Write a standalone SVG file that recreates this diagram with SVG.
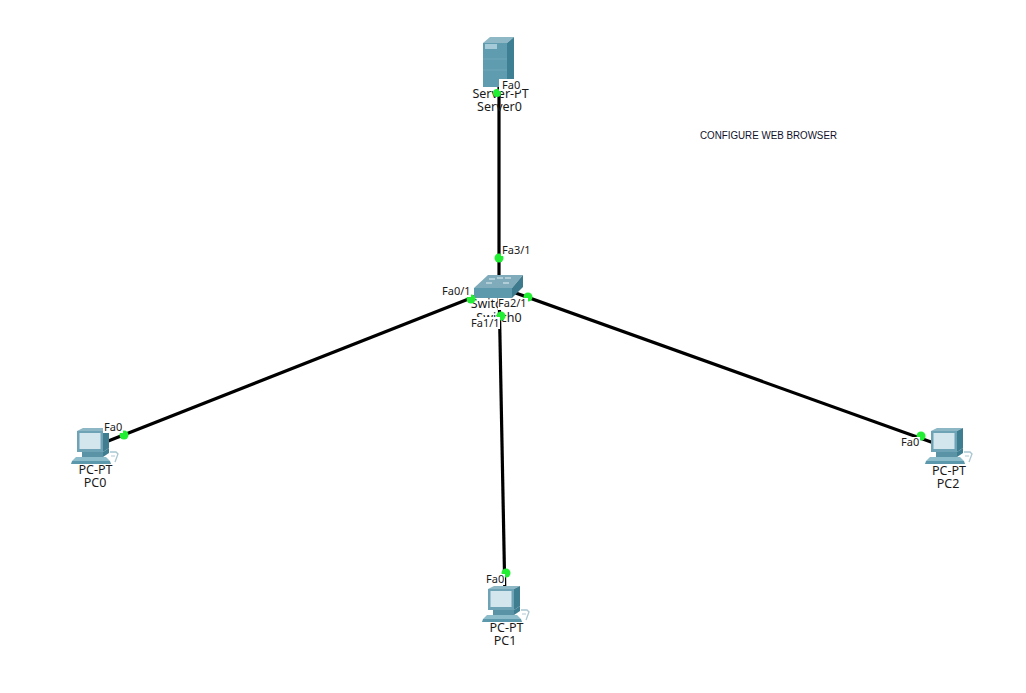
<svg xmlns="http://www.w3.org/2000/svg" width="1026" height="693" viewBox="0 0 1026 693">
<style>
text{font-family:"Noto Sans","DejaVu Sans",sans-serif;font-size:12.5px;fill:#1a1a1a;text-anchor:middle}
.link{stroke:#000;stroke-width:3.2;fill:none}
.dot{fill:#22ee33}
.bg{fill:#fff}
.port{text-anchor:start;font-size:11px}
.note{fill:#10102a;font-size:10px;text-anchor:start;font-family:"Liberation Sans",sans-serif}
</style>
<defs>
<g id="pc">
<path d="M0 3L6 0H32L26 3Z" fill="#8db7c5"/>
<path d="M26 3L32 0V20L26 24Z" fill="#3f7d90"/>
<rect x="0" y="3" width="26" height="21" fill="#6da3b5"/>
<rect x="2.5" y="5" width="21" height="16" fill="#d3e5ed"/>
<path d="M5 24H26V29H5Z" fill="#5b93a6"/>
<path d="M26 24L32 20V25L26 29Z" fill="#3f7d90"/>
<path d="M-1 29H29L33 33H-5Z" fill="#8dbccb"/>
<path d="M-5 33H33L34 36H-6Z" fill="#5c98ac"/>
<path d="M33 24H39L41 26L38 34" fill="none" stroke="#a9c6d1" stroke-width="1.3"/>
<path d="M34 28H38" stroke="#c8dbe3" stroke-width="1.5"/>
</g>
</defs>
<rect width="1026" height="693" fill="#fff"/>
<g id="connectors">
<path class="link" d="M499 62V287"/>
<path class="link" d="M499 287L93 447"/>
<path class="link" d="M499 287L505 600"/>
<path class="link" d="M499 287L945 447"/>
</g>
<g id="Server0">
<path d="M483 43L490 37H514L507 43Z" fill="#8fb8c6"/>
<path d="M507 43L514 37V80L507 87Z" fill="#3f7f93"/>
<rect x="483" y="43" width="24" height="44" fill="#5f9cb0"/>
<rect x="485" y="44" width="12" height="5" fill="#a6cbd8"/>
<path d="M483 59H507M483 70H507" stroke="#79adbf" stroke-width=".7"/>
<text x="500.500" y="98">Server-PT</text>
<text x="499.500" y="111">Server0</text>
</g>
<g id="Switch0">
<path d="M474 288L488 275H523L512 288Z" fill="#7fabbb"/>
<path d="M512 288L523 275V287L512 298Z" fill="#3d7a8d"/>
<rect x="474" y="288" width="38" height="10" fill="#5d99ad"/>
<path d="M486 283H492M505 278H511M497 278H503M489 279H495M503 283H509" stroke="#e4f0f4" stroke-width="1"/>
<text x="499" y="308">Switch-PT</text>
<text x="499" y="322">Switch0</text>
</g>
<g id="PC0"><use href="#pc" x="77" y="428"/><text x="95.500" y="474">PC-PT</text><text x="95" y="487">PC0</text></g>
<g id="PC1"><use href="#pc" x="488" y="586"/><text x="506.500" y="632">PC-PT</text><text x="505" y="645">PC1</text></g>
<g id="PC2"><use href="#pc" x="931" y="428"/><text x="949" y="475">PC-PT</text><text x="948" y="488">PC2</text></g>
<g id="ports">
<circle class="dot" cx="497" cy="93" r="4"/>
<circle class="dot" cx="499" cy="258" r="4.500"/>
<circle class="dot" cx="471" cy="299" r="4.500"/>
<circle class="dot" cx="528" cy="297" r="4.500"/>
<circle class="dot" cx="501" cy="316" r="4.500"/>
<circle class="dot" cx="124" cy="435" r="4.500"/>
<circle class="dot" cx="506" cy="573" r="4.500"/>
<circle class="dot" cx="921" cy="436" r="4.500"/>
<rect class="bg" x="499" y="79" width="21" height="12"/><text class="port" x="502" y="89">Fa0</text>
<rect class="bg" x="501" y="244" width="30" height="12"/><text class="port" x="502" y="254">Fa3/1</text>
<rect class="bg" x="441" y="285" width="30" height="12"/><text class="port" x="442" y="295">Fa0/1</text>
<rect class="bg" x="498" y="298" width="30" height="12"/><text class="port" x="498" y="307">Fa2/1</text>
<rect class="bg" x="471" y="317" width="29" height="12"/><text class="port" x="471" y="327">Fa1/1</text>
<rect class="bg" x="103" y="422" width="20" height="11"/><text class="port" x="104" y="431">Fa0</text>
<rect class="bg" x="485" y="574" width="20" height="11"/><text class="port" x="486" y="583">Fa0</text>
<rect class="bg" x="900" y="437" width="20" height="11"/><text class="port" x="901" y="446">Fa0</text>
</g>
<text class="note" x="700" y="139" textLength="137" lengthAdjust="spacingAndGlyphs">CONFIGURE WEB BROWSER</text>
</svg>
